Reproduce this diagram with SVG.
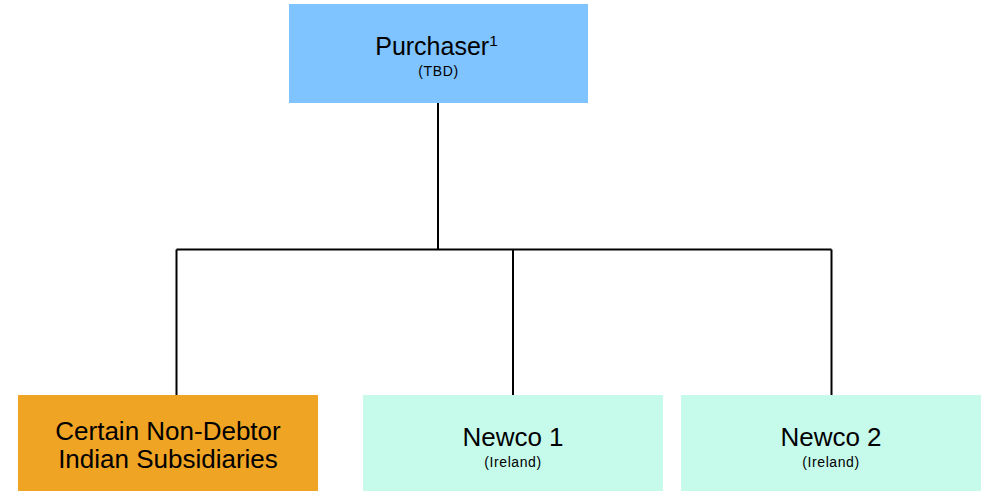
<svg xmlns="http://www.w3.org/2000/svg" width="987" height="491" viewBox="0 0 987 491">
<style>
text{font-family:"Liberation Sans",Arial,sans-serif;fill:#000;text-anchor:middle}
.big{font-size:26px}
.small{font-size:14px;letter-spacing:0.6px}
.conn{stroke:#000;stroke-width:2;fill:none}
</style>
<rect width="987" height="491" fill="#fff"/>
<g id="connectors">
<path class="conn" d="M438 103V249.5M176.5 249.5H831.5M176.5 249.5V395M513 249.5V395M831.5 249.5V395"/>
</g>
<g id="purchaser">
<rect x="289" y="4" width="299" height="99" fill="#7FC3FF"/>
<text x="436.5" y="55" font-size="25">Purchaser<tspan font-size="15.5" dy="-9">1</tspan></text>
<text class="small" x="438.5" y="76">(TBD)</text>
</g>
<g id="indian">
<rect x="18" y="395" width="300" height="96" fill="#EFA424"/>
<text class="big" x="168" y="440">Certain Non-Debtor</text>
<text class="big" x="168" y="468">Indian Subsidiaries</text>
</g>
<g id="newco1">
<rect x="363" y="395" width="300" height="96" fill="#C6FBEC"/>
<text class="big" x="513" y="446">Newco 1</text>
<text class="small" x="513" y="467">(Ireland)</text>
</g>
<g id="newco2">
<rect x="681" y="395" width="300" height="96" fill="#C6FBEC"/>
<text class="big" x="831" y="446">Newco 2</text>
<text class="small" x="831" y="467">(Ireland)</text>
</g>
</svg>
